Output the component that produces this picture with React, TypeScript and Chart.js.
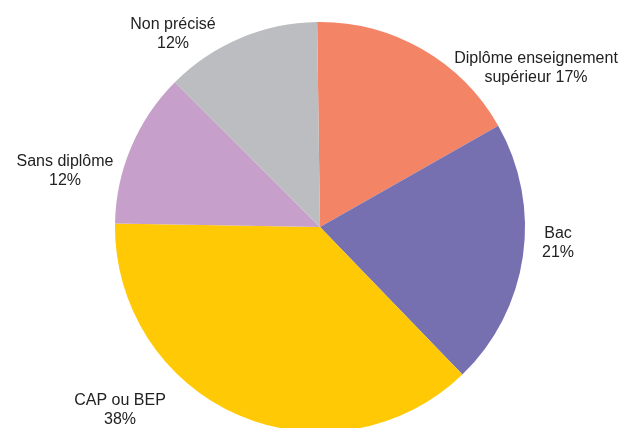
import React, { useEffect, useRef } from "react";
import { Chart, registerables } from "chart.js";

Chart.register(...registerables);

const categories = ["Diplôme enseignement supérieur", "Bac", "CAP ou BEP", "Sans diplôme", "Non précisé"];
const values = [17, 21, 37.5, 12.2, 12.3];
const labelLines = [
  ["Diplôme enseignement", "supérieur 17%"],
  ["Bac", "21%"],
  ["CAP ou BEP", "38%"],
  ["Sans diplôme", "12%"],
  ["Non précisé", "12%"],
];
const colors = ["#F48466", "#7670B1", "#FFCA05", "#C79FCB", "#BCBDC0"];
// label anchor (center x, first baseline y) in canvas px
const labelAnchors = [
  [536, 63],
  [558, 238],
  [120, 405],
  [65, 166],
  [173, 29],
];

const labelPlugin = {
  id: "pieLabels",
  afterDraw(chart: any) {
    const ctx = chart.ctx;
    ctx.save();
    ctx.fillStyle = "#222222";
    ctx.font = "16px 'Liberation Sans', Arial, sans-serif";
    ctx.textAlign = "center";
    ctx.textBaseline = "alphabetic";
    labelLines.forEach((lines, i) => {
      const [x, y] = labelAnchors[i];
      lines.forEach((t, j) => ctx.fillText(t, x, y + j * 19));
    });
    ctx.restore();
  },
};

export default function App() {
  const ref = useRef<HTMLCanvasElement>(null);
  useEffect(() => {
    document.body.style.margin = "0";
    const chart = new Chart(ref.current!, {
      type: "pie",
      data: {
        labels: categories,
        datasets: [
          {
            data: values,
            backgroundColor: colors,
            borderWidth: 0,
          },
        ],
      },
      options: {
        animation: false,
        responsive: false,
        rotation: -0.8,
        layout: { padding: { top: 22, bottom: 8, left: 115, right: 97 } },
        plugins: { legend: { display: false }, tooltip: { enabled: false } },
      },
      plugins: [labelPlugin],
    });
    return () => chart.destroy();
  }, []);
  return (
    <div style={{ position: "absolute", left: 0, top: 0, width: 622, height: 428, overflow: "hidden", background: "#fff" }}>
      <canvas ref={ref} width={622} height={440} style={{ display: "block" }} />
    </div>
  );
}
